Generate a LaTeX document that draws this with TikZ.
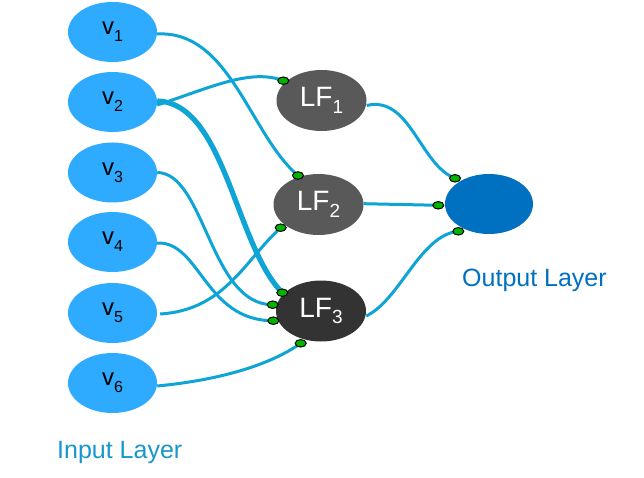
\documentclass[tikz,border=0pt]{standalone}
\usepackage{fontspec}
\setmainfont{Liberation Sans}
\usetikzlibrary{shapes.geometric,backgrounds}
\definecolor{vin}{HTML}{2EABFF}
\definecolor{lfa}{HTML}{595959}
\definecolor{lfb}{HTML}{333333}
\definecolor{outc}{HTML}{0070C0}
\definecolor{wire}{HTML}{0EA5D6}
\definecolor{dotg}{HTML}{00B400}
\definecolor{inlab}{HTML}{1896CC}
\newcommand{\vsub}[1]{v\raisebox{-7pt}{\fontsize{16}{16}\selectfont #1}}
\newcommand{\lfsub}[1]{LF\raisebox{-6.7pt}{\fontsize{19}{19}\selectfont #1}}
\begin{document}
\begin{tikzpicture}[x=1pt,y=-1pt,
  vnode/.style={ellipse, fill=vin, minimum width=89pt, minimum height=60pt, inner sep=0pt, text=black, font=\fontsize{24}{24}\selectfont},
  lfnode/.style={ellipse, minimum width=90pt, minimum height=61pt, inner sep=0pt, text=white, font=\fontsize{28}{28}\selectfont},
  outnode/.style={ellipse, fill=outc, minimum width=88pt, minimum height=60pt, inner sep=0pt},
  dotn/.style={ellipse, fill=dotg, draw=black, line width=1pt, minimum width=11pt, minimum height=7.5pt, inner sep=0pt},
  wireln/.style={draw=wire, line width=3pt},
  thickwire/.style={draw=wire, line width=5.2pt},
  laybl/.style={font=\fontsize{25}{25}\selectfont, inner sep=0pt, anchor=base west}
]
\useasboundingbox (0,0) rectangle (644,478);

% input layer
\node[vnode] (v1) at (112.5,32) {\vsub{1}};
\node[vnode] (v2) at (112.5,102) {\vsub{2}};
\node[vnode] (v3) at (112.5,172.5) {\vsub{3}};
\node[vnode] (v4) at (112.5,242) {\vsub{4}};
\node[vnode] (v5) at (112.5,313) {\vsub{5}};
\node[vnode] (v6) at (112.5,383) {\vsub{6}};

% latent factors
\node[lfnode, fill=lfa] (lf1) at (321.5,100.5) {\lfsub{1}};
\node[lfnode, fill=lfa] (lf2) at (318.5,204.5) {\lfsub{2}};
\node[lfnode, fill=lfb] (lf3) at (321,311) {\lfsub{3}};

% output
\node[outnode] (out) at (489,204) {};

% connection dots
\node[dotn] (d1) at (283.3,80.7) {};
\node[dotn] (d2a) at (298,175.5) {};
\node[dotn] (d2b) at (280.7,227.7) {};
\node[dotn] (d3a) at (282.3,292.7) {};
\node[dotn] (d3b) at (272.7,304.7) {};
\node[dotn] (d3c) at (273.3,320.7) {};
\node[dotn] (d3d) at (300.7,343.3) {};
\node[dotn] (o1) at (455,178.3) {};
\node[dotn] (o2) at (438.3,205.3) {};
\node[dotn] (o3) at (458.3,231.3) {};

% connectors
\begin{scope}[on background layer]
\path[wireln] ([yshift=-2pt]v1.east) .. controls (230,30) and (250,135) .. (d2a.center);
\path[wireln] ([yshift=-3pt]v2.east) .. controls (210,88) and (250,68) .. (d1.center);
\path[thickwire] ([yshift=1pt]v2.east) .. controls (225,103) and (235,245) .. (d3a.center);
\path[wireln] (v3.east) .. controls (205,173) and (210,305) .. (d3b.center);
\path[wireln] ([yshift=-1pt]v4.east) .. controls (200,241) and (205,321) .. (d3c.center);
\path[wireln] ([xshift=3pt,yshift=-1pt]v5.east) .. controls (225,310) and (245,260) .. (d2b.center);
\path[wireln] ([yshift=-3pt]v6.east) .. controls (220,380) and (270,365) .. (d3d.center);
\path[wireln] ([yshift=-5pt]lf1.east) .. controls (410,95) and (420,165) .. (o1.center);
\path[wireln] ([yshift=0.8pt]lf2.east) -- (o2.center);
\path[wireln] ([yshift=-5pt]lf3.east) .. controls (400,300) and (420,235) .. (o3.center);
\end{scope}

% layer labels
\node[laybl, text=inlab] (inl) at (57,458) {Input Layer};
\node[laybl, text=outc] (outl) at (462,286) {Output Layer};
\end{tikzpicture}
\end{document}
